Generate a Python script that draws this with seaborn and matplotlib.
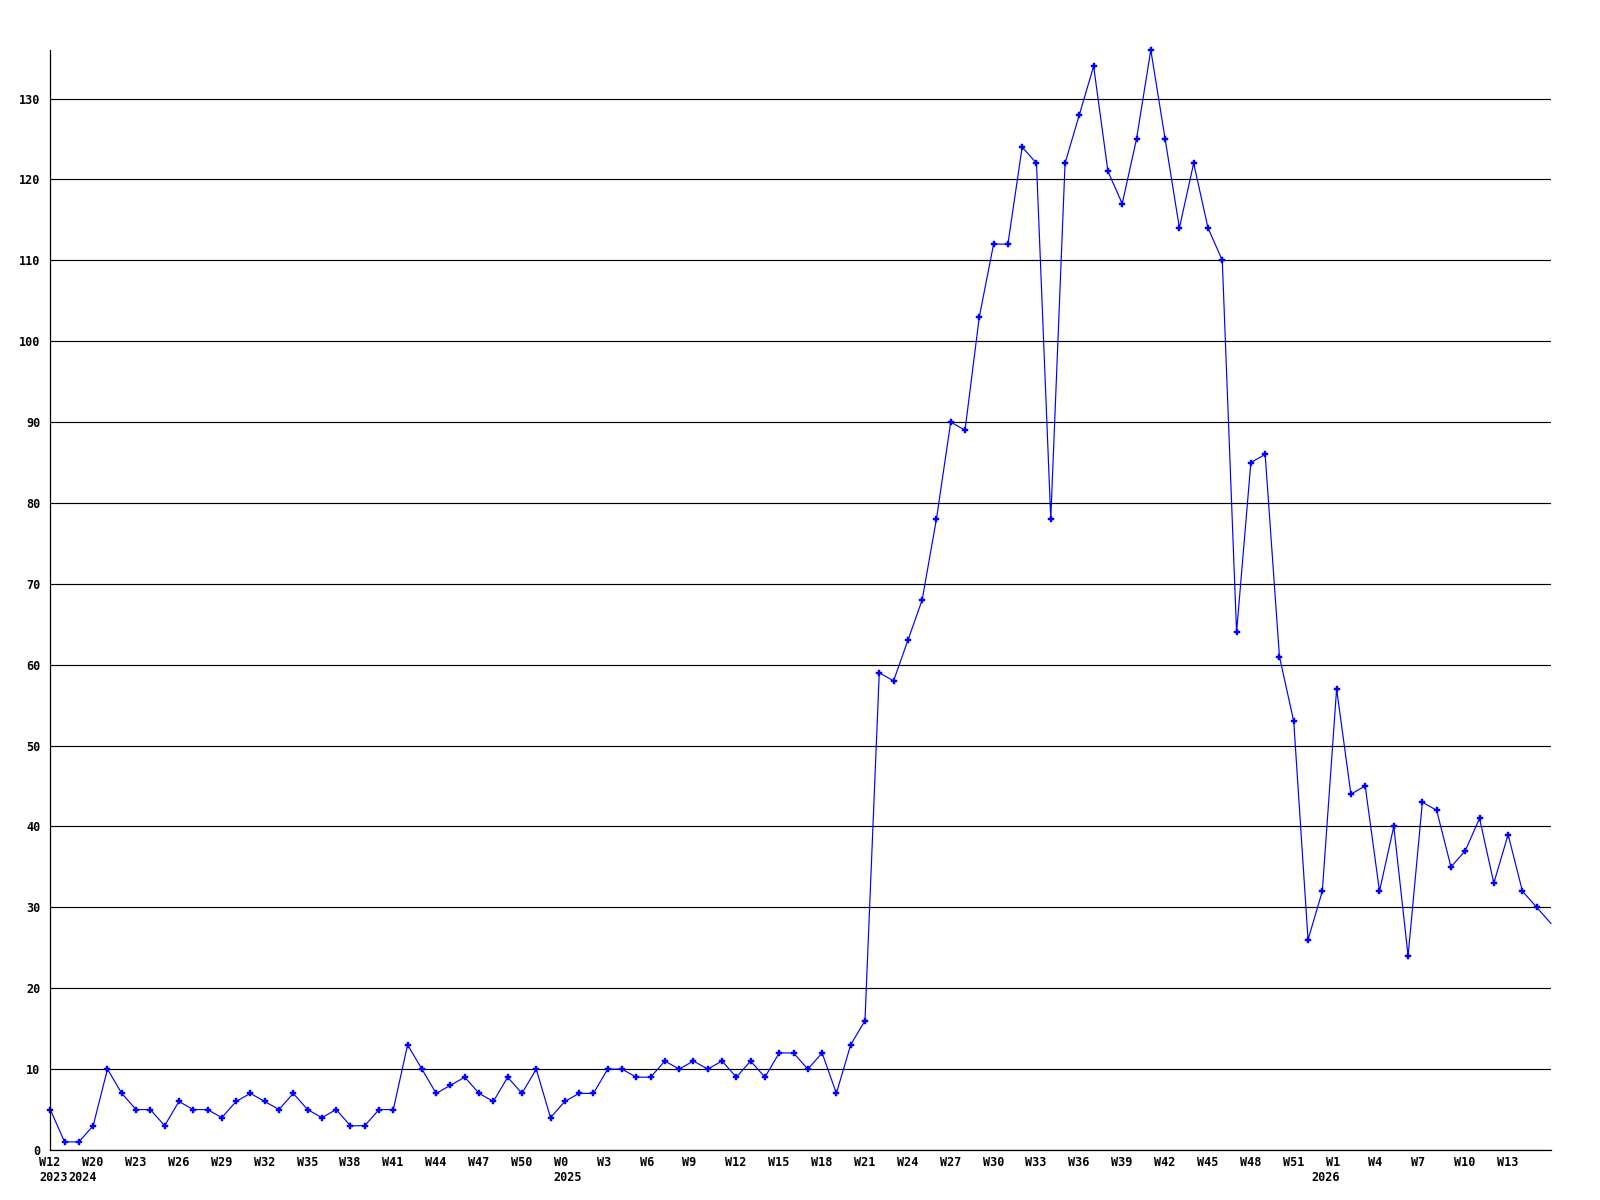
import matplotlib
matplotlib.use("Agg")
import matplotlib.pyplot as plt
import seaborn as sns
from matplotlib.transforms import ScaledTranslation, blended_transform_factory

# weekly counts, one per point (last point sits on the right edge)
counts = [5, 1, 1, 3, 10, 7, 5, 5, 3, 6, 5, 5, 4, 6, 7, 6, 5, 7, 5, 4,
          5, 3, 3, 5, 5, 13, 10, 7, 8, 9, 7, 6, 9, 7, 10, 4,
          6, 7, 7, 10, 10, 9, 9, 11, 10, 11, 10, 11, 9, 11, 9, 12, 12, 10, 12,
          7, 13, 16,
          59, 58, 63, 68, 78, 90, 89, 103, 112, 112, 124, 122, 78, 122, 128,
          134, 121, 117, 125, 136, 125, 114, 122, 114, 110,
          64, 85, 86, 61, 53, 26, 32, 57, 44, 45, 32, 40, 24, 43, 42, 35, 37,
          41, 33, 39, 32, 30, 28]
points = list(range(len(counts)))

# x labels every third point
week_pos = list(range(0, 103, 3))
week_labels = ["W12", "W20", "W23", "W26", "W29", "W32", "W35", "W38", "W41",
               "W44", "W47", "W50", "W0", "W3", "W6", "W9", "W12", "W15",
               "W18", "W21", "W24", "W27", "W30", "W33", "W36", "W39", "W42",
               "W45", "W48", "W51", "W1", "W4", "W7", "W10", "W13"]
year_pos = [0, 2, 36, 89]
year_labels = ["2023", "2024", "2025", "2026"]
y_ticks = list(range(0, 131, 10))

sns.set_style("white")
plt.rcParams['font.family'] = ['DejaVu Sans Mono']
plt.rcParams['font.weight'] = 'bold'

fig = plt.figure(figsize=(16, 12), dpi=100)
ax = fig.add_axes([50.3 / 1600, 50 / 1200, (1551 - 50.3) / 1600, 1100 / 1200])

sns.lineplot(x=points, y=counts, ax=ax, color="#0000ff", lw=0.85,
             marker="P", markersize=5, mec="#0000ff", mew=0.3,
             markevery=list(range(len(counts) - 1)), clip_on=False)

ax.set_xlim(0, len(counts) - 1)
ax.set_ylim(0, max(counts))
ax.set_yticks(y_ticks)
ax.yaxis.grid(True, color="black", lw=0.85)
ax.xaxis.grid(False)
ax.set_xlabel("")
ax.set_ylabel("")

for s in ["top", "right"]:
    ax.spines[s].set_visible(False)
for s in ["left", "bottom"]:
    ax.spines[s].set_color("black")
    ax.spines[s].set_linewidth(0.9)

ax.set_xticks(week_pos, week_labels)
ax.tick_params(axis="both", length=0, labelsize=8.5, colors="black")
ax.tick_params(axis="y", pad=7)
ax.tick_params(axis="x", pad=4.5)
shift = ScaledTranslation(-11 / 100, 0, fig.dpi_scale_trans)
for lbl in ax.get_xticklabels():
    lbl.set_ha("left")
    lbl.set_transform(lbl.get_transform() + shift)

trans = blended_transform_factory(ax.transData, ax.transAxes) + \
    ScaledTranslation(-11 / 100, -21 / 100, fig.dpi_scale_trans)
for p, y in zip(year_pos, year_labels):
    ax.text(p, 0, y, transform=trans, ha="left", va="top",
            fontsize=8.5, fontweight="bold", color="black")

fig.savefig("out.png", dpi=100)
plt.close()
